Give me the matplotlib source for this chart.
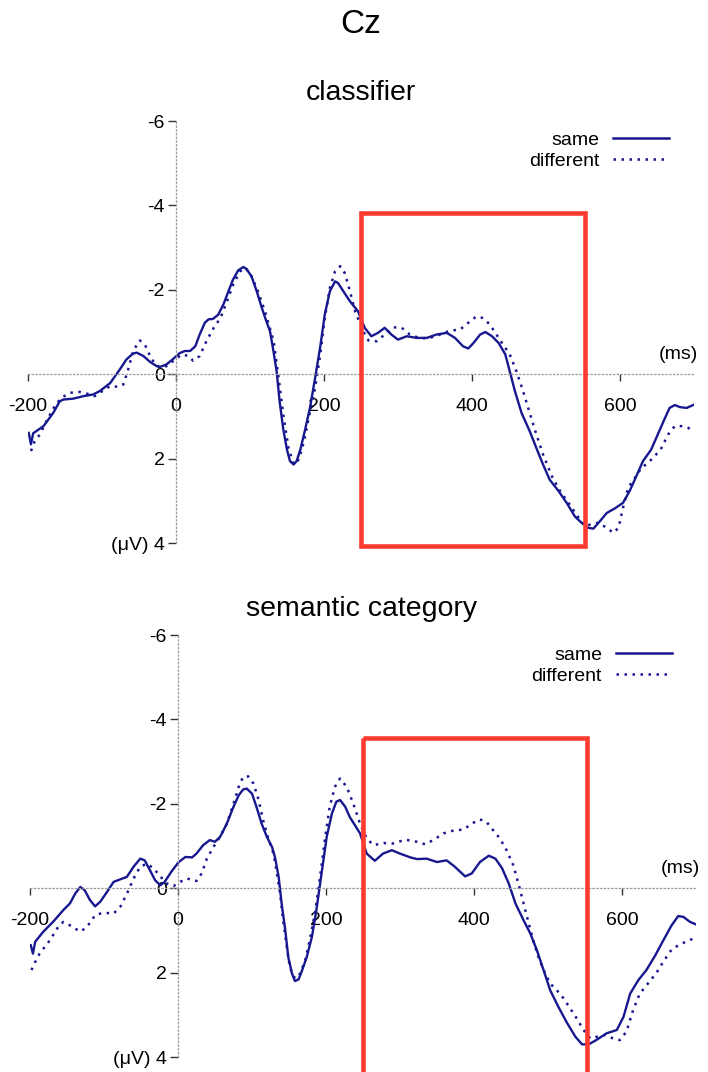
import numpy as np
import matplotlib
matplotlib.use('Agg')
from matplotlib import pyplot as plt
from matplotlib.patches import Rectangle
from matplotlib.lines import Line2D

plt.rcParams['font.family'] = ['Liberation Sans', 'DejaVu Sans']

# ---- data (ms, microvolts) ----
# classifier panel
cls_same_t = [-199, -196, -193, -179, -166, -157, -152, -139, -125, -112, -103, -89, -76, -67, -58, -53,
              -44, -35, -26, -22, -13, -4, 5, 12, 19, 26, 32, 39, 44, 50, 57, 64, 71, 77, 84, 91, 95,
              102, 109, 116, 122, 127, 131, 136, 140, 145, 150, 154, 159, 163, 168, 174, 181, 188, 195,
              201, 208, 215, 219, 226, 235, 246, 255, 264, 273, 282, 291, 300, 312, 325, 339, 352, 366,
              377, 388, 395, 402, 411, 418, 427, 436, 445, 451, 458, 467, 478, 487, 496, 505, 517, 528,
              539, 548, 557, 564, 573, 582, 593, 604, 613, 622, 631, 642, 651, 660, 667, 674, 681, 690, 699]
cls_same_v = [1.39, 1.66, 1.40, 1.23, 0.92, 0.64, 0.60, 0.58, 0.52, 0.48, 0.40, 0.21, -0.11, -0.35, -0.49, -0.51,
              -0.43, -0.29, -0.19, -0.17, -0.23, -0.36, -0.50, -0.55, -0.55, -0.66, -0.94, -1.22, -1.30, -1.31, -1.41, -1.65, -1.97, -2.24, -2.46, -2.54, -2.50,
              -2.32, -1.97, -1.57, -1.26, -1.02, -0.62, -0.07, 0.64, 1.31, 1.79, 2.06, 2.14, 2.06, 1.79, 1.35, 0.80, 0.09, -0.66,
              -1.41, -1.97, -2.20, -2.16, -1.97, -1.73, -1.49, -1.10, -0.90, -0.98, -1.10, -0.94, -0.82, -0.90, -0.86, -0.86, -0.94, -0.98,
              -0.86, -0.66, -0.61, -0.74, -0.94, -1.00, -0.90, -0.74, -0.47, -0.07, 0.40, 0.92, 1.35, 1.75, 2.14, 2.50, 2.77, 3.05,
              3.37, 3.52, 3.64, 3.66, 3.48, 3.29, 3.18, 3.05, 2.77, 2.42, 2.06, 1.79, 1.43, 1.07, 0.80, 0.73, 0.78, 0.80, 0.73]

cls_diff_t = [-196, -191, -184, -175, -164, -155, -143, -130, -116, -110, -103, -89, -78, -71, -64, -58,
              -49, -42, -35, -28, -22, -13, -1, 8, 17, 23, 32, 41, 51, 60, 69, 78, 87, 93, 100,
              110, 120, 132, 138, 145, 152, 159, 166, 173, 179, 188, 195, 201, 208, 215, 222, 228, 235, 242,
              253, 260, 271, 282, 294, 305, 316, 330, 343, 357, 370, 384, 395, 406, 415, 424, 433, 442, 451,
              460, 469, 478, 487, 496, 508, 519, 532, 544, 553, 562, 571, 582, 591, 598, 604, 611, 620, 629,
              638, 647, 656, 665, 674, 683, 692, 699]
cls_diff_v = [1.82, 1.59, 1.43, 1.11, 0.76, 0.56, 0.44, 0.42, 0.48, 0.52, 0.44, 0.28, 0.30, 0.24, -0.15, -0.55,
              -0.80, -0.70, -0.43, -0.23, -0.17, -0.19, -0.35, -0.47, -0.43, -0.32, -0.43, -0.78, -1.10, -1.33, -1.73, -2.16, -2.44, -2.52, -2.40,
              -2.00, -1.50, -0.78, 0.00, 0.96, 1.75, 2.14, 2.02, 1.59, 1.07, 0.32, -0.47, -1.33, -2.05, -2.44, -2.56, -2.40, -1.97, -1.49,
              -1.02, -0.80, -0.78, -0.94, -1.11, -1.10, -0.94, -0.85, -0.86, -0.94, -1.03, -1.06, -1.22, -1.37, -1.33, -1.18, -0.94, -0.70, -0.47,
              -0.07, 0.40, 0.92, 1.43, 1.90, 2.42, 2.77, 3.09, 3.40, 3.60, 3.55, 3.52, 3.64, 3.76, 3.64, 3.17, 2.69, 2.46, 2.22,
              2.10, 1.94, 1.75, 1.43, 1.23, 1.23, 1.27, 1.35]

# semantic category panel
sem_same_t = [-199, -196, -193, -182, -169, -155, -146, -139, -132, -126, -119, -112, -105, -96, -87, -78,
              -69, -60, -51, -45, -38, -31, -24, -18, -9, 1, 10, 19, 25, 34, 43, 50, 57, 66, 75, 82, 88, 93,
              100, 106, 113, 120, 127, 131, 136, 140, 145, 149, 154, 158, 163, 167, 174, 181, 187, 194, 201,
              208, 214, 219, 226, 232, 246, 255, 266, 277, 289, 300, 314, 323, 336, 350, 363, 374, 388, 397,
              408, 420, 429, 438, 447, 456, 467, 476, 485, 494, 503, 514, 525, 537, 546, 555, 566, 579, 593,
              602, 611, 622, 633, 645, 656, 667, 676, 683, 692, 699]
sem_same_v = [1.35, 1.55, 1.27, 1.03, 0.80, 0.52, 0.36, 0.13, -0.03, 0.05, 0.28, 0.43, 0.32, 0.09, -0.15, -0.21,
              -0.27, -0.51, -0.70, -0.66, -0.43, -0.19, -0.07, -0.15, -0.39, -0.62, -0.74, -0.73, -0.82, -1.02, -1.14, -1.10, -1.22, -1.53, -1.93, -2.20, -2.34, -2.36,
              -2.24, -1.93, -1.53, -1.22, -0.98, -0.74, -0.27, 0.36, 1.00, 1.63, 2.02, 2.20, 2.16, 1.98, 1.63, 1.15, 0.52, -0.35, -1.22,
              -1.77, -2.05, -2.09, -1.93, -1.69, -1.30, -0.82, -0.65, -0.82, -0.90, -0.82, -0.73, -0.69, -0.70, -0.62, -0.66, -0.51, -0.28, -0.35,
              -0.62, -0.77, -0.70, -0.47, -0.11, 0.36, 0.76, 1.07, 1.47, 1.94, 2.42, 2.81, 3.17, 3.52, 3.70, 3.70, 3.59, 3.44, 3.36,
              3.05, 2.50, 2.18, 1.94, 1.59, 1.23, 0.88, 0.66, 0.68, 0.80, 0.85]

sem_diff_t = [-198, -193, -187, -173, -162, -155, -146, -132, -123, -112, -101, -87, -78, -69, -60, -51,
              -42, -33, -24, -15, -6, 3, 12, 21, 25, 32, 39, 48, 57, 66, 75, 82, 88, 95, 102, 109,
              115, 122, 129, 133, 138, 142, 147, 151, 156, 160, 165, 172, 178, 185, 192, 199, 205, 212, 219,
              228, 237, 246, 255, 264, 278, 291, 307, 323, 334, 345, 359, 373, 386, 397, 408, 417, 426, 435,
              444, 453, 460, 467, 474, 480, 487, 494, 503, 512, 521, 530, 539, 548, 557, 566, 577, 588, 597,
              606, 615, 624, 635, 646, 657, 668, 677, 686, 697]
sem_diff_v = [1.94, 1.75, 1.55, 1.23, 0.92, 0.80, 0.88, 1.03, 0.92, 0.64, 0.58, 0.60, 0.44, 0.13, -0.23, -0.51,
              -0.58, -0.47, -0.28, -0.11, -0.05, -0.15, -0.23, -0.19, -0.17, -0.35, -0.70, -0.98, -1.22, -1.53, -2.00, -2.40, -2.64, -2.65, -2.48, -2.09,
              -1.61, -1.18, -0.82, -0.43, 0.13, 0.76, 1.39, 1.86, 2.10, 2.14, 2.02, 1.71, 1.23, 0.60, -0.27, -1.22, -1.93, -2.40, -2.60,
              -2.40, -2.00, -1.53, -1.18, -1.02, -1.07, -1.06, -1.15, -1.10, -1.04, -1.14, -1.30, -1.37, -1.39, -1.53, -1.63, -1.57, -1.37, -1.18,
              -0.90, -0.55, -0.11, 0.36, 0.84, 1.23, 1.63, 1.94, 2.26, 2.42, 2.61, 2.85, 3.09, 3.36, 3.56, 3.52, 3.48, 3.56, 3.60,
              3.40, 2.89, 2.50, 2.26, 2.02, 1.71, 1.43, 1.35, 1.27, 1.19]

panel_titles = ['classifier', 'semantic category']
xticks = [-200, 0, 200, 400, 600]
yticks = [-6, -4, -2, 0, 2, 4]
ytick_labels = ['-6', '-4', '-2', '0', '2', '(\u03bcV) 4']
win_start, win_end = 250, 553      # highlighted window (ms)
box_tops = [-3.82, -3.55]
box_bottoms = [4.08, 4.6]

navy = '#17178f'
red = '#ff3b30'

fig = plt.figure(figsize=(7.08, 10.72), dpi=100)
fig.text(0.51, 1 - 33 / 1072, 'Cz', ha='center', va='baseline', fontsize=24)

panels = [
    ([28 / 708, 1 - 543 / 1072, 666 / 708, 422 / 1072], cls_same_t, cls_same_v, cls_diff_t, cls_diff_v,
     1 - 100 / 1072, (669 / 708, 1 - 131 / 1072)),
    ([30 / 708, 1 - 1057 / 1072, 666 / 708, 422 / 1072], sem_same_t, sem_same_v, sem_diff_t, sem_diff_v,
     1 - 616 / 1072, (672 / 708, 1 - 646 / 1072)),
]

for i, (rect, st, sv, dt, dv, ty, leg_xy) in enumerate(panels):
    ax = fig.add_axes(rect)
    fig.text(0.51, ty, panel_titles[i], ha='center', va='baseline', fontsize=20.5)

    ax.plot(st, sv, color=navy, lw=1.7, solid_joinstyle='round')
    ax.plot(dt, dv, color=navy, lw=1.8, linestyle=(0, (1, 2.2)))

    ax.set_xlim(-200, 700)
    ax.set_ylim(4, -6)

    for side in ['top', 'right']:
        ax.spines[side].set_visible(False)
    for side in ['left', 'bottom']:
        ax.spines[side].set_position(('data', 0))
        ax.spines[side].set_linestyle((0, (1, 2)))
        ax.spines[side].set_color('#9a9a9a')
        ax.spines[side].set_linewidth(0.9)

    ax.set_xticks(xticks)
    ax.set_xticklabels([str(x) for x in xticks])
    ax.set_yticks(yticks)
    ax.set_yticklabels(ytick_labels)
    ax.tick_params(axis='x', direction='out', length=5, width=1, color='#333333', pad=12, labelsize=14)
    ax.tick_params(axis='y', direction='out', length=6, width=1, color='#333333', pad=2, labelsize=14)

    ax.text(706, -0.46, '(ms)', ha='right', va='center', fontsize=14)

    box = Rectangle((win_start, box_tops[i]), win_end - win_start, box_bottoms[i] - box_tops[i],
                    fill=False, edgecolor=red, lw=3.3, clip_on=False, zorder=5)
    ax.add_patch(box)

    handles = [Line2D([], [], color=navy, lw=1.8),
               Line2D([], [], color=navy, lw=1.8, linestyle=(0, (1, 2.2)))]
    ax.legend(handles, ['same', 'different'], loc='upper right', bbox_to_anchor=leg_xy,
              bbox_transform=fig.transFigure, markerfirst=False, frameon=False, fontsize=14,
              handlelength=2.9, handletextpad=0.7, labelspacing=0.18, borderpad=0, borderaxespad=0)

fig.savefig('out.png', dpi=100)
